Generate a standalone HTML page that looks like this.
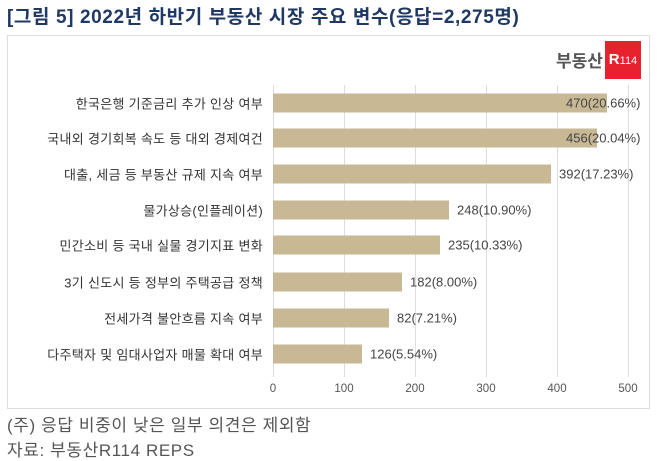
<!DOCTYPE html><html><head><meta charset="utf-8"><style>
body{margin:0;width:658px;height:459px;background:#fff;font-family:"Liberation Sans","Noto Sans CJK KR",sans-serif;position:relative;overflow:hidden}
.a{position:absolute;white-space:nowrap}
.lab{position:absolute;right:395px;font-size:13px;letter-spacing:0.3px;color:#333;transform:translateY(-50%)}
.bar{position:absolute;left:273px;height:19px;background:#c8b994;transform:translateY(-50%)}
.val{position:absolute;font-size:13px;color:#444;transform:translateY(-50%)}
.g{position:absolute;top:85px;height:292px;width:1px;background:#ddd}
.t{position:absolute;top:383px;font-size:11.5px;color:#555;transform:translateX(-50%)}
</style></head><body>
<div class="a" style="left:7px;top:2px;font-size:19px;letter-spacing:0.6px;font-weight:bold;color:#1f3864">[그림 5] 2022년 하반기 부동산 시장 주요 변수(응답=2,275명)</div>
<div class="a" style="left:7px;top:35px;width:641px;height:372px;border:1px solid #ddd"></div>
<div class="a" style="left:556px;top:47px;font-size:17px;font-weight:bold;color:#555">부동산</div>
<div class="a" style="left:605px;top:41px;width:36px;height:38px;background:#e8212e;color:#fff;font-weight:bold;font-size:15px;text-align:center;line-height:38px">R<span style="font-size:11px;font-weight:normal">114</span></div>
<div class="g" style="left:273px"></div><div class="g" style="left:344px"></div><div class="g" style="left:415px"></div><div class="g" style="left:486px"></div><div class="g" style="left:557px"></div><div class="g" style="left:628px"></div>
<div class="t" style="left:273px">0</div><div class="t" style="left:344px">100</div><div class="t" style="left:415px">200</div><div class="t" style="left:486px">300</div><div class="t" style="left:557px">400</div><div class="t" style="left:628px">500</div>

<div class="lab" style="top:103px">한국은행 기준금리 추가 인상 여부</div><div class="bar" style="top:103px;width:334px"></div><div class="val" style="top:103px;left:566px">470(20.66%)</div>
<div class="lab" style="top:138px">국내외 경기회복 속도 등 대외 경제여건</div><div class="bar" style="top:138px;width:324px"></div><div class="val" style="top:138px;left:566px">456(20.04%)</div>
<div class="lab" style="top:174px">대출, 세금 등 부동산 규제 지속 여부</div><div class="bar" style="top:174px;width:278px"></div><div class="val" style="top:174px;left:559px">392(17.23%)</div>
<div class="lab" style="top:210px">물가상승(인플레이션)</div><div class="bar" style="top:210px;width:176px"></div><div class="val" style="top:210px;left:457px">248(10.90%)</div>
<div class="lab" style="top:245px">민간소비 등 국내 실물 경기지표 변화</div><div class="bar" style="top:245px;width:167px"></div><div class="val" style="top:245px;left:448px">235(10.33%)</div>
<div class="lab" style="top:282px">3기 신도시 등 정부의 주택공급 정책</div><div class="bar" style="top:282px;width:129px"></div><div class="val" style="top:282px;left:410px">182(8.00%)</div>
<div class="lab" style="top:318px">전세가격 불안흐름 지속 여부</div><div class="bar" style="top:318px;width:116px"></div><div class="val" style="top:318px;left:397px">82(7.21%)</div>
<div class="lab" style="top:354px">다주택자 및 임대사업자 매물 확대 여부</div><div class="bar" style="top:354px;width:89px"></div><div class="val" style="top:354px;left:370px">126(5.54%)</div>

<div class="a" style="left:7px;top:411px;font-size:17px;letter-spacing:0.6px;color:#555">(주) 응답 비중이 낮은 일부 의견은 제외함</div>
<div class="a" style="left:7px;top:436px;font-size:17px;letter-spacing:0.6px;color:#555">자료: 부동산R114 REPS</div>
</body></html>
